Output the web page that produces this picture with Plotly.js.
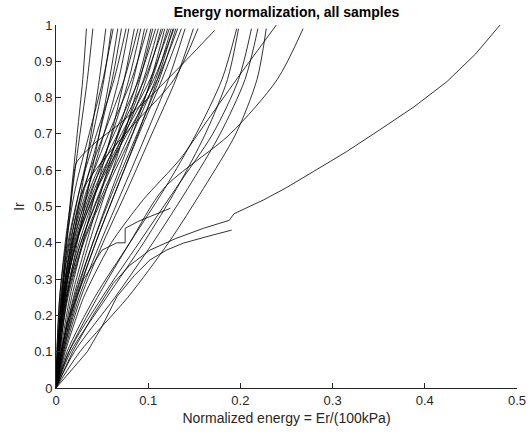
<!DOCTYPE html>
<html>
<head>
<meta charset="utf-8">
<script src="https://cdn.plot.ly/plotly-3.0.1.min.js"></script>
<style>html,body{margin:0;padding:0;background:#fff;}#chart{width:529px;height:438px;}</style>
</head>
<body>
<div id="chart"></div>
<script>
// Ir levels at which each sample's normalized energy is read
const yLevels = [0, 0.1, 0.25, 0.4, 0.55, 0.7, 0.85, 0.99];

// steep samples: normalized energy at each Ir level
const steepSamples = [
  [0,0.002,0.006,0.011,0.017,0.023,0.029,0.033],
  [0,0.001,0.004,0.010,0.018,0.026,0.034,0.040],
  [0,0.003,0.010,0.018,0.028,0.038,0.047,0.054],
  [0,0.002,0.006,0.014,0.026,0.040,0.052,0.060],
  [0,0.001,0.004,0.011,0.021,0.036,0.051,0.062],
  [0,0.004,0.012,0.023,0.035,0.047,0.058,0.067],
  [0,0.002,0.007,0.017,0.031,0.047,0.061,0.071],
  [0,0.002,0.005,0.013,0.026,0.044,0.063,0.076],
  [0,0.002,0.008,0.019,0.035,0.052,0.068,0.079],
  [0,0.005,0.015,0.029,0.044,0.060,0.074,0.085],
  [0,0.002,0.006,0.015,0.030,0.052,0.074,0.089],
  [0,0.003,0.009,0.022,0.040,0.061,0.079,0.092],
  [0,0.006,0.017,0.033,0.050,0.067,0.084,0.096],
  [0,0.002,0.007,0.017,0.034,0.057,0.082,0.099],
  [0,0.003,0.010,0.025,0.045,0.068,0.089,0.103],
  [0,0.006,0.019,0.036,0.055,0.074,0.091,0.105],
  [0,0.002,0.008,0.018,0.037,0.063,0.090,0.108],
  [0,0.003,0.011,0.027,0.049,0.073,0.095,0.111],
  [0,0.003,0.011,0.027,0.050,0.075,0.098,0.114],
  [0,0.002,0.008,0.020,0.039,0.067,0.096,0.116],
  [0,0.007,0.021,0.040,0.061,0.083,0.103,0.118],
  [0,0.004,0.012,0.029,0.053,0.080,0.104,0.121],
  [0,0.002,0.009,0.021,0.042,0.071,0.102,0.123],
  [0,0.004,0.013,0.030,0.055,0.083,0.108,0.125],
  [0,0.008,0.023,0.043,0.066,0.089,0.110,0.127],
  [0,0.003,0.009,0.022,0.044,0.074,0.106,0.128],
  [0,0.006,0.020,0.040,0.063,0.088,0.112,0.130],
  [0,0.003,0.009,0.022,0.045,0.077,0.110,0.132],
  [0,0.007,0.022,0.043,0.066,0.090,0.115,0.136],
  [0,0.008,0.025,0.048,0.073,0.098,0.122,0.140],
  [0,0.009,0.027,0.051,0.078,0.104,0.130,0.149],
  [0,0.003,0.008,0.016,0.030,0.075,0.128,0.154]
];

// wider samples
const wideSamples = [
  [0,0.012,0.042,0.080,0.118,0.152,0.180,0.196],
  [0,0.016,0.055,0.095,0.131,0.162,0.186,0.198],
  [0,0.014,0.050,0.090,0.130,0.170,0.198,0.212],
  [0,0.020,0.064,0.105,0.143,0.178,0.205,0.219],
  [0,0.026,0.078,0.122,0.160,0.195,0.218,0.228],
  [0,0.014,0.045,0.080,0.117,0.189,0.240,0.268]
];

// individual samples with their own Ir points
const diagAX = [0,0.004,0.010,0.016,0.022,0.040,0.070,0.105,0.142,0.172];
const diagAY = [0,0.15,0.35,0.50,0.62,0.67,0.73,0.81,0.905,0.985];
const diagBX = [0,0.010,0.030,0.060,0.095,0.1345,0.165,0.200,0.239];
const diagBY = [0,0.10,0.25,0.40,0.52,0.63,0.74,0.865,1.0];
const jogX = [0,0.004,0.012,0.030,0.050,0.066,0.075,0.075,0.090,0.105,0.124];
const jogY = [0,0.08,0.18,0.30,0.38,0.40,0.40,0.44,0.46,0.475,0.495];
const longX = [0,0.018,0.040,0.062,0.080,0.102,0.130,0.160,0.188,0.190,0.193,0.225,0.250,0.279,0.315,0.351,0.388,0.424,0.455,0.4816];
const longY = [0,0.10,0.20,0.288,0.338,0.380,0.412,0.440,0.462,0.470,0.480,0.518,0.552,0.596,0.651,0.711,0.774,0.844,0.920,1.0];
const shortX = [0,0.034,0.050,0.066,0.085,0.102,0.120,0.138,0.165,0.1905];
const shortY = [0,0.10,0.17,0.2515,0.31,0.353,0.380,0.399,0.418,0.435];

// tick labels
const xTicks = [0,0.1,0.2,0.3,0.4,0.5];
const xTickText = ['0','0.1','0.2','0.3','0.4','0.5'];
const yTicks = [0,0.1,0.2,0.3,0.4,0.5,0.6,0.7,0.8,0.9,1];
const yTickText = ['0','0.1','0.2','0.3','0.4','0.5','0.6','0.7','0.8','0.9','1'];

const lineStyle = {color:'#000000', width:0.8};
const traces = [];
steepSamples.concat(wideSamples).forEach(xs => {
  traces.push({x: xs, y: yLevels, mode:'lines', type:'scatter',
    line: Object.assign({shape:'spline', smoothing:0.8}, lineStyle)});
});
[[diagAX,diagAY,'spline'],[diagBX,diagBY,'spline'],[jogX,jogY,'linear'],[longX,longY,'linear'],[shortX,shortY,'linear']].forEach(s => {
  traces.push({x: s[0], y: s[1], mode:'lines', type:'scatter',
    line: Object.assign({shape:s[2], smoothing:0.6}, lineStyle)});
});

const axisFont = {family:'Liberation Sans, Arial, sans-serif', size:13, color:'#262626'};
const layout = {
  width:529, height:438,
  margin:{l:56, r:12, t:25, b:50, pad:0},
  paper_bgcolor:'#ffffff', plot_bgcolor:'#ffffff',
  showlegend:false, hovermode:false,
  title:{text:'<b>Energy normalization, all samples</b>',
    font:{family:'Liberation Sans, Arial, sans-serif', size:14, color:'#000000'},
    x:0.5415, xanchor:'center', y:0.972, yanchor:'middle', yref:'container'},
  xaxis:{range:[0,0.5], tickvals:xTicks, ticktext:xTickText,
    ticks:'inside', ticklen:5, tickwidth:1, tickcolor:'#262626',
    showline:true, linecolor:'#262626', linewidth:1,
    showgrid:false, zeroline:false, tickfont:axisFont, automargin:false,
    title:{text:'Normalized energy = Er/(100kPa)', font:{family:'Liberation Sans, Arial, sans-serif', size:14, color:'#262626'}, standoff:6}},
  yaxis:{range:[0,1], tickvals:yTicks, ticktext:yTickText,
    ticks:'inside', ticklen:5, tickwidth:1, tickcolor:'#262626',
    showline:true, linecolor:'#262626', linewidth:1,
    showgrid:false, zeroline:false, tickfont:axisFont, automargin:false,
    title:{text:'Ir', font:{family:'Liberation Sans, Arial, sans-serif', size:14, color:'#262626'}, standoff:6}}
};
Plotly.newPlot('chart', traces, layout, {staticPlot:true, displayModeBar:false});
</script>
</body>
</html>
